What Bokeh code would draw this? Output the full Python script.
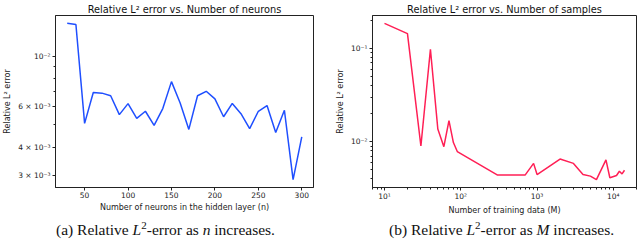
import math
from bokeh.plotting import figure
from bokeh.models import Range1d, FixedTicker, CustomJSTickFormatter, Div
from bokeh.layouts import row, column
from bokeh.embed import file_html
from bokeh.resources import INLINE

# ---- data ----
neurons = [30, 40, 50, 60, 70, 80, 90, 100, 110, 120, 130, 140, 150, 160, 170,
           180, 190, 200, 210, 220, 230, 240, 250, 260, 270, 280, 290, 300]
err_neurons = [0.01393, 0.01376, 0.00508, 0.00693, 0.00689, 0.00671, 0.00555,
               0.00620, 0.00534, 0.00574, 0.00498, 0.00590, 0.00774, 0.00624,
               0.00478, 0.00671, 0.00702, 0.00650, 0.00543, 0.00621, 0.00560,
               0.00482, 0.00574, 0.00608, 0.00463, 0.00580, 0.00288, 0.00443]

samples = [10, 20, 30, 40, 50, 60, 70, 80, 90, 300, 700, 900, 1000, 2000, 3000,
           4000, 5000, 6000, 8000, 9000, 11000, 12000, 13000, 14000]
err_samples = [0.186, 0.144, 0.0090, 0.098, 0.0137, 0.00886, 0.0168, 0.0098,
               0.00785, 0.00441, 0.00441, 0.00586, 0.00445, 0.00652, 0.00586,
               0.00445, 0.00428, 0.00392, 0.00640, 0.00411, 0.00435, 0.00483,
               0.00452, 0.00495]

left_y_ticks = [0.003, 0.004, 0.006, 0.01]
left_y_labels = ["3 \u00d7 10\u207b\u00b3", "4 \u00d7 10\u207b\u00b3", "6 \u00d7 10\u207b\u00b3", "10\u207b\u00b2"]
left_y_minor = [0.005, 0.007, 0.008, 0.009]
left_x_ticks = [50, 100, 150, 200, 250, 300]

right_x_ticks = [10, 100, 1000, 10000]
right_x_labels = ["10\u00b9", "10\u00b2", "10\u00b3", "10\u2074"]
right_y_ticks = [0.01, 0.1]
right_y_labels = ["10\u207b\u00b2", "10\u207b\u00b9"]

title_a = "Relative L\u00b2 error vs. Number of neurons"
title_b = "Relative L\u00b2 error vs. Number of samples"
xlabel_a = "Number of neurons in the hidden layer (n)"
xlabel_b = "Number of training data (M)"
ylabel = "Relative L\u00b2 error"
SUP = '<span style="font-size:11px; vertical-align:6px; line-height:0">2</span>'
caption_a = "(a) Relative <i>L</i>" + SUP + "-error as <i>n</i> increases."
caption_b = "(b) Relative <i>L</i>" + SUP + "-error as <i>M</i> increases."

FONT = "DejaVu Sans"
AX = "#222222"


def log_minors(lo, hi):
    out = []
    e = math.floor(math.log10(lo))
    while 10 ** e <= hi:
        for k in range(2, 10):
            v = k * 10 ** e
            if lo <= v <= hi:
                out.append(v)
        e += 1
    return out


def fmt(ticks, labels):
    return CustomJSTickFormatter(args=dict(vals=ticks, labs=labels), code="""
        for (let i = 0; i < vals.length; i++) {
            if (Math.abs(vals[i] - tick) <= 1e-6 * Math.abs(vals[i])) return labs[i];
        }
        return "";
    """)


def style(p, title):
    p.title.text = title
    p.title.text_font = FONT
    p.title.text_font_size = "9.8px"
    p.title.text_font_style = "normal"
    p.title.text_color = "#111111"
    p.title.align = "center"
    p.title.standoff = 2
    p.title.offset = 0
    p.xgrid.visible = False
    p.ygrid.visible = False
    p.outline_line_color = AX
    p.outline_line_width = 1
    p.background_fill_color = "white"
    p.border_fill_color = "white"
    for ax in (p.xaxis[0], p.yaxis[0]):
        ax.axis_line_color = AX
        ax.major_tick_line_color = AX
        ax.minor_tick_line_color = AX
        ax.major_tick_out = 3
        ax.major_tick_in = 0
        ax.minor_tick_out = 2
        ax.minor_tick_in = 0
        ax.major_label_standoff = 2
        ax.axis_label_standoff = 3
        ax.major_label_text_font = FONT
        ax.major_label_text_font_size = "7.5px"
        ax.major_label_text_color = "#222222"
        ax.axis_label_text_font = FONT
        ax.axis_label_text_font_size = "8px"
        ax.axis_label_text_font_style = "normal"
        ax.axis_label_text_color = "#222222"
    p.xaxis[0].major_label_standoff = 1
    p.xaxis[0].axis_label_standoff = 2


def lin_margin(vals):
    lo, hi = min(vals), max(vals)
    m = 0.05 * (hi - lo)
    return lo - m, hi + m


def log_margin(vals):
    lo, hi = math.log10(min(vals)), math.log10(max(vals))
    m = 0.05 * (hi - lo)
    return 10 ** (lo - m), 10 ** (hi + m)


# ---- left figure ----
x0, x1 = lin_margin(neurons)
y0, y1 = log_margin(err_neurons)
p1 = figure(width=332, height=217, y_axis_type="log",
            x_range=Range1d(x0, x1), y_range=Range1d(y0, y1),
            output_backend="svg", toolbar_location=None,
            min_border_left=50, min_border_right=19, min_border_top=14, min_border_bottom=30)
p1.line(neurons, err_neurons, line_color="#1f4fff", line_width=1.5)
style(p1, title_a)
p1.xaxis.axis_label = xlabel_a
p1.yaxis.axis_label = ylabel
p1.xaxis.ticker = FixedTicker(ticks=left_x_ticks, minor_ticks=[])
p1.yaxis.ticker = FixedTicker(ticks=left_y_ticks, minor_ticks=left_y_minor)
p1.yaxis.formatter = fmt(left_y_ticks, left_y_labels)

# ---- right figure ----
sx0, sx1 = log_margin(samples)
sy0, sy1 = log_margin(err_samples)
p2 = figure(width=308, height=217, x_axis_type="log", y_axis_type="log",
            x_range=Range1d(sx0, sx1), y_range=Range1d(sy0, sy1),
            output_backend="svg", toolbar_location=None,
            min_border_left=37, min_border_right=4, min_border_top=14, min_border_bottom=30)
p2.line(samples, err_samples, line_color="#ff1f55", line_width=1.5)
style(p2, title_b)
p2.xaxis.axis_label = xlabel_b
p2.yaxis.axis_label = ylabel
p2.xaxis.ticker = FixedTicker(ticks=right_x_ticks, minor_ticks=log_minors(sx0, sx1))
p2.xaxis.formatter = fmt(right_x_ticks, right_x_labels)
p2.yaxis.ticker = FixedTicker(ticks=right_y_ticks, minor_ticks=log_minors(sy0, sy1))
p2.yaxis.formatter = fmt(right_y_ticks, right_y_labels)

inner = ('<div style="font-family: \'Liberation Serif\', \'DejaVu Serif\', serif; '
         'font-size: 15.5px; color: #111; white-space: nowrap; padding-left: {pad}px; '
         'margin: 0; line-height: 16px;">{txt}</div>')
d1 = Div(text=inner.format(pad=51, txt=caption_a), width=332, height=24)
d2 = Div(text=inner.format(pad=42, txt=caption_b), width=308, height=24)

layout = column(row(p1, p2), row(d1, d2))
open("out.html", "w").write(file_html(layout, INLINE))
